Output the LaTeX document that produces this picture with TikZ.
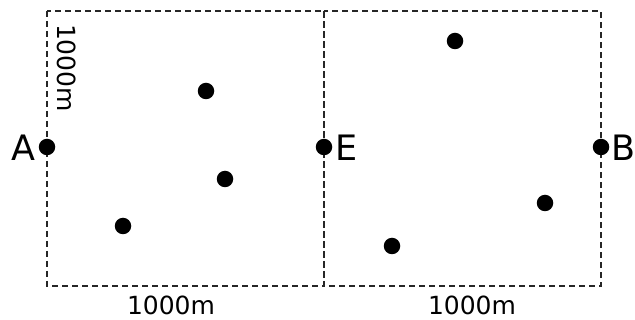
\documentclass[tikz,border=0pt]{standalone}
\usepackage{fontspec}
\setmainfont{DejaVu Sans}
\begin{document}
\begin{tikzpicture}[x=1pt,y=-1pt,
  area/.style={draw=black!85,line width=1.3pt,dash pattern=on 6pt off 4pt},
  pt/.style={circle,fill=black,inner sep=0pt,minimum size=16.5pt},
  big/.style={font=\fontsize{35}{40}\selectfont,inner sep=0pt},
  dim/.style={font=\fontsize{25}{28}\selectfont,inner sep=0pt}]
\useasboundingbox (0,0) rectangle (635,320);
\draw[area] (47,11) rectangle (324,286);
\draw[area] (324,11) rectangle (601,286);
\node[pt] (A) at (47,147) {};
\node[pt] (E) at (324,147) {};
\node[pt] (B) at (601,147) {};
\node[pt] (p1) at (206,91) {};
\node[pt] (p2) at (225,179) {};
\node[pt] (p3) at (123,226) {};
\node[pt] (p4) at (455,41) {};
\node[pt] (p5) at (545,203) {};
\node[pt] (p6) at (392,246) {};
\node[big] (lA) at (23,148) {A};
\node[big] (lE) at (347,148) {E};
\node[big] (lB) at (623,148) {B};
\node[dim,rotate=-90] (lv) at (67,68) {1000m};
\node[dim] (lb1) at (171,305) {1000m};
\node[dim] (lb2) at (472,305) {1000m};
\end{tikzpicture}
\end{document}
